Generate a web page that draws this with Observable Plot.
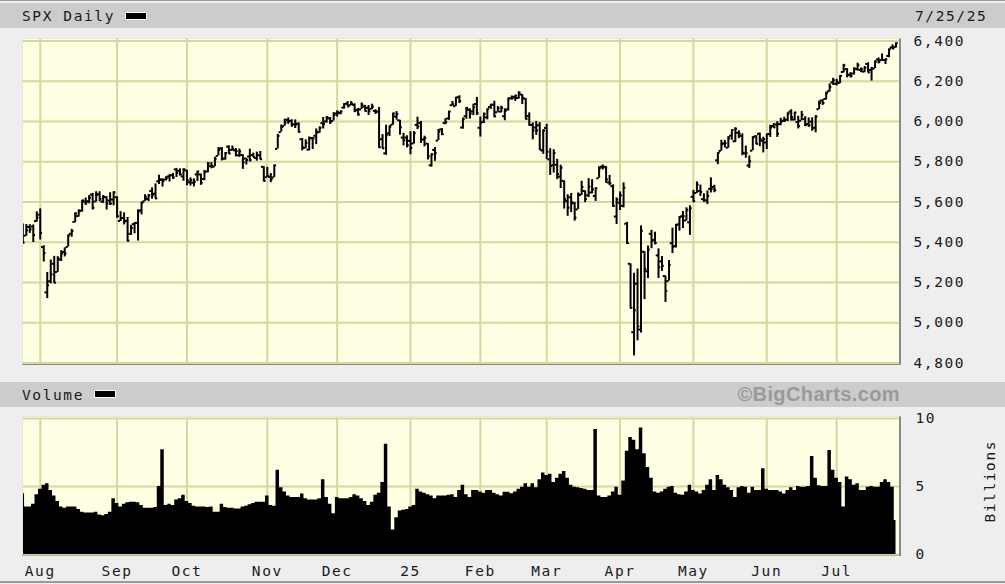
<!DOCTYPE html>
<html><head><meta charset="utf-8">
<script src="https://cdn.jsdelivr.net/npm/d3@7"></script>
<script src="https://cdn.jsdelivr.net/npm/@observablehq/plot@0.6"></script>
<style>
html,body{margin:0;padding:0;background:#eeeeee;}
#wrap{position:relative;width:1005px;height:584px;overflow:hidden;background:#eeeeee;font-family:"DejaVu Sans Mono",monospace;color:#1a1a1a;}
.hbar{position:absolute;left:0;width:1005px;background:#cccccc;}
.lbl{position:absolute;font-size:14.5px;letter-spacing:1.6px;line-height:1;white-space:nowrap;}
.leg{position:absolute;width:20px;height:6px;background:#000;border:1px solid #fff;}
.panel{position:absolute;background:#ffffe3;border-top:1px solid #e6e6d2;border-left:1px solid #e6e6d2;border-right:2px solid #8a8a8a;border-bottom:2px solid #8a8a8a;}
.chart{position:absolute;left:0;}
svg text{letter-spacing:1.6px;}
</style></head>
<body>
<div id="wrap">
  <div style="position:absolute;left:0;top:0;width:1005px;height:1px;background:#9a9a9a"></div>
  <div class="hbar" style="top:3px;height:25px"></div>
  <div class="lbl" style="left:22px;top:9px">SPX Daily</div>
  <div class="leg" style="left:125px;top:12px"></div>
  <div class="lbl" style="left:915px;top:9px">7/25/25</div>
  <div class="panel" style="left:22px;top:38px;width:876px;height:324px"></div>
  <div class="hbar" style="top:382px;height:25px"></div>
  <div class="lbl" style="left:22px;top:388px">Volume</div>
  <div class="leg" style="left:94px;top:390px"></div>
  <div style="position:absolute;right:105px;top:384px;font:bold 20px 'Liberation Sans',Arial,sans-serif;line-height:1;color:#9a9a9a;letter-spacing:0.4px;white-space:nowrap">©BigCharts.com</div>
  <div class="panel" style="left:22px;top:416px;width:876px;height:137px"></div>
  <div class="lbl" style="left:940px;top:474px;width:100px;text-align:center;transform:rotate(-90deg);transform-origin:50% 50%">Billions</div>
  <div style="position:absolute;left:0;top:581px;width:1005px;height:2px;background:#9a9a9a"></div>
  <div id="price" class="chart" style="top:30px"></div>
  <div id="volume" class="chart" style="top:410px"></div>
</div>
<script>
const dates = [
"2024-07-25","2024-07-26","2024-07-29","2024-07-30","2024-07-31",
"2024-08-01","2024-08-02","2024-08-05","2024-08-06","2024-08-07","2024-08-08","2024-08-09","2024-08-12","2024-08-13","2024-08-14","2024-08-15","2024-08-16","2024-08-19","2024-08-20","2024-08-21","2024-08-22","2024-08-23","2024-08-26","2024-08-27","2024-08-28","2024-08-29","2024-08-30",
"2024-09-03","2024-09-04","2024-09-05","2024-09-06","2024-09-09","2024-09-10","2024-09-11","2024-09-12","2024-09-13","2024-09-16","2024-09-17","2024-09-18","2024-09-19","2024-09-20","2024-09-23","2024-09-24","2024-09-25","2024-09-26","2024-09-27","2024-09-30",
"2024-10-01","2024-10-02","2024-10-03","2024-10-04","2024-10-07","2024-10-08","2024-10-09","2024-10-10","2024-10-11","2024-10-14","2024-10-15","2024-10-16","2024-10-17","2024-10-18","2024-10-21","2024-10-22","2024-10-23","2024-10-24","2024-10-25","2024-10-28","2024-10-29","2024-10-30","2024-10-31",
"2024-11-01","2024-11-04","2024-11-05","2024-11-06","2024-11-07","2024-11-08","2024-11-11","2024-11-12","2024-11-13","2024-11-14","2024-11-15","2024-11-18","2024-11-19","2024-11-20","2024-11-21","2024-11-22","2024-11-25","2024-11-26","2024-11-27","2024-11-29",
"2024-12-02","2024-12-03","2024-12-04","2024-12-05","2024-12-06","2024-12-09","2024-12-10","2024-12-11","2024-12-12","2024-12-13","2024-12-16","2024-12-17","2024-12-18","2024-12-19","2024-12-20","2024-12-23","2024-12-24","2024-12-26","2024-12-27","2024-12-30","2024-12-31",
"2025-01-02","2025-01-03","2025-01-06","2025-01-07","2025-01-08","2025-01-10","2025-01-13","2025-01-14","2025-01-15","2025-01-16","2025-01-17","2025-01-21","2025-01-22","2025-01-23","2025-01-24","2025-01-27","2025-01-28","2025-01-29","2025-01-30","2025-01-31",
"2025-02-03","2025-02-04","2025-02-05","2025-02-06","2025-02-07","2025-02-10","2025-02-11","2025-02-12","2025-02-13","2025-02-14","2025-02-18","2025-02-19","2025-02-20","2025-02-21","2025-02-24","2025-02-25","2025-02-26","2025-02-27","2025-02-28",
"2025-03-03","2025-03-04","2025-03-05","2025-03-06","2025-03-07","2025-03-10","2025-03-11","2025-03-12","2025-03-13","2025-03-14","2025-03-17","2025-03-18","2025-03-19","2025-03-20","2025-03-21","2025-03-24","2025-03-25","2025-03-26","2025-03-27","2025-03-28","2025-03-31",
"2025-04-01","2025-04-02","2025-04-03","2025-04-04","2025-04-07","2025-04-08","2025-04-09","2025-04-10","2025-04-11","2025-04-14","2025-04-15","2025-04-16","2025-04-17","2025-04-21","2025-04-22","2025-04-23","2025-04-24","2025-04-25","2025-04-28","2025-04-29","2025-04-30",
"2025-05-01","2025-05-02","2025-05-05","2025-05-06","2025-05-07","2025-05-08","2025-05-09","2025-05-12","2025-05-13","2025-05-14","2025-05-15","2025-05-16","2025-05-19","2025-05-20","2025-05-21","2025-05-22","2025-05-23","2025-05-27","2025-05-28","2025-05-29","2025-05-30",
"2025-06-02","2025-06-03","2025-06-04","2025-06-05","2025-06-06","2025-06-09","2025-06-10","2025-06-11","2025-06-12","2025-06-13","2025-06-16","2025-06-17","2025-06-18","2025-06-20","2025-06-23","2025-06-24","2025-06-25","2025-06-26","2025-06-27","2025-06-30",
"2025-07-01","2025-07-02","2025-07-03","2025-07-07","2025-07-08","2025-07-09","2025-07-10","2025-07-11","2025-07-14","2025-07-15","2025-07-16","2025-07-17","2025-07-18","2025-07-21","2025-07-22","2025-07-23","2025-07-24","2025-07-25"
];
const opens = [
5428,5433,5476,5478,5505,
5537,5376,5151,5206,5293,5252,5314,5352,5376,5442,5501,5530,5557,5602,5604,5637,5602,5639,5602,5624,5607,5612,
5624,5506,5520,5507,5442,5490,5496,5558,5603,5615,5655,5641,5703,5709,5711,5727,5733,5762,5755,5727,
5757,5698,5696,5737,5737,5714,5751,5778,5775,5829,5866,5816,5875,5859,5857,5832,5834,5816,5826,5833,5819,5832,5775,
5723,5725,5722,5864,5947,5977,6008,6003,5986,5989,5912,5869,5860,5917,5929,5946,5992,6000,6015,6003,
6040,6042,6069,6089,6081,6083,6058,6060,6074,6068,6063,6053,6048,5912,5842,5941,5984,6025,6006,5920,5920,
5904,5891,5983,5993,5911,5890,5782,5859,5905,5961,5993,6015,6081,6076,6121,5970,6026,6058,6050,6087,
5969,5998,6021,6072,6083,6046,6049,6026,6060,6115,6122,6117,6134,6114,6027,5983,5970,5981,5856,
5968,5812,5782,5785,5726,5705,5604,5624,5594,5563,5635,5655,5633,5647,5630,5718,5775,5772,5697,5679,5528,
5597,5581,5492,5293,4953,5194,4966,5353,5256,5442,5412,5335,5305,5232,5207,5395,5381,5489,5529,5508,5499,
5626,5645,5655,5614,5608,5665,5675,5807,5854,5891,5870,5929,5902,5944,5928,5842,5781,5855,5926,5939,5904,
5896,5938,5978,5985,5987,6004,6009,6049,6010,5997,6004,6012,5987,5999,5969,6061,6104,6112,6150,6194,
6187,6191,6246,6260,6233,6238,6260,6256,6248,6286,6256,6263,6308,6305,6306,6326,6368,6370
];
const highs = [
5491,5488,5487,5486,5551,
5566,5383,5250,5312,5330,5328,5358,5372,5436,5464,5546,5561,5608,5620,5632,5643,5651,5651,5632,5627,5646,5651,
5626,5552,5546,5523,5484,5497,5561,5600,5636,5637,5670,5690,5733,5716,5725,5735,5742,5767,5765,5765,
5757,5720,5715,5753,5739,5757,5796,5796,5822,5871,5870,5846,5879,5878,5866,5863,5835,5817,5862,5843,5848,5851,5775,
5772,5741,5783,5936,5983,6012,6018,6009,6008,5993,5916,5909,5923,5921,5963,5973,6020,6025,6020,6044,
6053,6052,6089,6099,6099,6088,6065,6092,6080,6079,6086,6058,6070,5935,5982,5979,6041,6049,6006,5941,5929,
5949,5950,6021,6000,5927,5890,5839,5871,5960,5965,6014,6051,6100,6119,6128,6017,6070,6063,6086,6120,
6022,6042,6062,6084,6101,6074,6076,6063,6116,6127,6129,6147,6134,6114,6043,5993,6000,5994,5959,
5986,5865,5860,5812,5783,5705,5636,5642,5598,5645,5703,5655,5716,5711,5670,5775,5784,5777,5732,5685,5621,
5650,5695,5499,5293,5246,5267,5481,5353,5381,5459,5450,5367,5329,5232,5309,5470,5489,5528,5553,5571,5581,
5658,5700,5684,5641,5655,5720,5683,5845,5907,5906,5925,5958,5969,5954,5939,5878,5829,5924,5930,5943,5922,
5937,5981,5990,5999,6016,6021,6043,6059,6045,6026,6050,6024,6018,6018,6029,6102,6109,6146,6187,6215,
6210,6227,6284,6263,6243,6267,6290,6266,6272,6292,6268,6301,6316,6336,6310,6360,6381,6390
];
const lows = [
5390,5430,5444,5399,5500,
5411,5302,5120,5193,5195,5250,5304,5327,5376,5425,5497,5525,5550,5583,5591,5560,5600,5602,5593,5560,5583,5581,
5520,5503,5486,5402,5434,5442,5406,5536,5603,5602,5614,5616,5687,5674,5705,5699,5712,5722,5729,5703,
5681,5679,5675,5702,5683,5706,5745,5765,5775,5829,5804,5808,5840,5852,5824,5822,5762,5784,5799,5823,5803,5810,5702,
5723,5696,5722,5864,5947,5977,5986,5971,5965,5942,5854,5865,5854,5861,5885,5942,5963,5992,5985,6003,
6022,6033,6062,6075,6079,6044,6027,6060,6052,6030,6059,6035,5867,5866,5832,5926,5982,6007,5932,5879,5869,
5835,5888,5960,5891,5874,5809,5773,5802,5905,5930,5984,6006,6076,6075,6089,5962,6011,6012,6029,6030,
5923,5990,6008,6060,6019,6046,6043,6004,6052,6107,6100,6111,6084,6009,5977,5909,5931,5858,5837,
5810,5732,5744,5711,5667,5565,5529,5547,5505,5563,5633,5597,5622,5641,5603,5718,5759,5693,5681,5573,5488,
5558,5571,5390,5070,4835,4910,4949,5115,5220,5368,5387,5220,5255,5101,5207,5344,5371,5455,5468,5505,5434,
5597,5643,5628,5598,5587,5645,5646,5786,5853,5869,5867,5907,5895,5915,5830,5817,5767,5855,5886,5875,5844,
5861,5921,5966,5921,5979,5995,6000,6002,6003,5963,6004,5975,5971,5952,5944,6059,6080,6107,6146,6180,
6177,6188,6241,6217,6216,6231,6251,6243,6242,6244,6201,6263,6286,6303,6283,6317,6360,6365
];
const closes = [
5399,5459,5464,5436,5522,
5446,5346,5186,5240,5199,5319,5344,5344,5434,5455,5543,5554,5608,5597,5621,5571,5634,5616,5626,5592,5592,5648,
5529,5520,5503,5408,5471,5496,5554,5596,5626,5633,5634,5618,5714,5703,5718,5732,5722,5745,5738,5762,
5709,5709,5700,5751,5696,5751,5792,5780,5815,5859,5815,5843,5841,5864,5853,5851,5797,5809,5808,5823,5833,5813,5705,
5729,5713,5782,5929,5973,5996,6001,5984,5985,5949,5871,5894,5917,5917,5949,5969,5987,6021,5999,6032,
6047,6050,6087,6075,6090,6053,6035,6084,6052,6051,6074,6051,5872,5867,5931,5974,6040,6037,5971,5907,5882,
5869,5942,5975,5909,5918,5827,5837,5843,5950,5937,5997,6049,6086,6119,6101,6012,6067,6039,6071,6041,
5994,6038,6061,6084,6026,6066,6069,6052,6115,6115,6129,6144,6118,6013,5983,5955,5956,5861,5955,
5850,5779,5843,5739,5770,5614,5572,5599,5522,5639,5675,5615,5676,5663,5668,5768,5777,5712,5693,5581,5612,
5633,5671,5396,5074,5062,4982,5457,5268,5363,5406,5397,5276,5283,5158,5288,5376,5485,5525,5529,5561,5569,
5604,5687,5650,5607,5631,5664,5660,5844,5886,5892,5916,5958,5964,5940,5845,5842,5802,5922,5889,5912,5912,
5936,5970,5971,5939,6000,6006,6039,6022,6045,5977,6033,5982,5981,5967,6025,6092,6092,6141,6173,6205,
6198,6227,6279,6230,6226,6263,6280,6260,6269,6244,6264,6297,6297,6305,6309,6359,6363,6389
];
const volumes = [
4.46,3.5,3.5,3.7,4.4,
4.8,5.1,5.2,4.7,4.3,3.9,3.5,3.4,3.5,3.5,3.5,3.3,3.1,3.05,3.05,3.05,3.1,2.9,2.85,2.95,3.1,4.1,
3.75,3.5,3.7,3.8,3.85,3.85,3.8,3.6,3.4,3.4,3.4,3.45,5.0,7.7,3.6,3.7,3.6,4.0,4.1,4.35,
3.9,3.75,3.55,3.5,3.5,3.5,3.45,3.5,3.1,3.1,3.7,3.45,3.4,3.4,3.35,3.35,3.5,3.55,3.65,3.75,3.85,3.85,3.85,
4.3,3.6,3.55,6.2,4.9,4.6,4.3,4.2,4.2,4.2,4.45,4.1,4.0,4.0,4.0,4.1,5.5,4.2,3.7,3.0,
4.2,4.1,4.1,4.1,4.2,4.4,4.3,4.1,3.9,3.6,3.85,4.35,4.5,5.3,8.1,3.5,1.8,2.7,3.2,3.25,3.3,
3.5,3.6,4.8,4.6,4.5,4.4,4.3,4.1,4.3,4.3,4.3,4.35,4.4,4.2,4.7,5.1,4.4,4.2,4.7,4.7,
4.6,4.5,4.7,4.7,4.5,4.4,4.3,4.58,4.58,4.46,4.6,4.8,4.95,5.2,4.95,5.2,4.9,5.5,6.0,
5.8,5.9,5.3,5.6,5.9,6.1,5.6,5.1,4.95,4.9,4.85,4.8,4.7,4.7,9.2,4.3,4.2,4.2,4.3,4.6,4.95,
4.35,5.4,7.6,8.6,8.4,7.7,9.3,7.4,6.4,5.6,4.6,4.5,4.6,4.8,4.95,5.0,4.5,4.4,4.35,4.6,5.1,
4.7,4.6,4.45,4.7,5.1,5.5,4.7,5.8,5.5,5.1,4.9,4.7,4.2,4.9,5.0,4.95,4.5,4.95,4.7,4.7,6.3,
4.8,4.7,4.7,4.7,4.6,4.45,4.7,4.9,4.7,5.0,4.95,4.95,5.0,7.2,5.6,5.05,5.0,5.0,7.65,6.2,
5.6,5.3,3.5,5.7,5.5,5.1,5.2,4.7,4.7,4.95,5.0,4.95,4.95,5.3,5.5,5.3,4.95,2.5
];
const priceTicks = [4800,5000,5200,5400,5600,5800,6000,6200,6400];
const volumeTicks = [0,5,10];
const monthLabels = ["Aug","Sep","Oct","Nov","Dec","25","Feb","Mar","Apr","May","Jun","Jul"];

const rows = dates.map((d, k) => ({k, date: d, open: opens[k], high: highs[k], low: lows[k], close: closes[k], vol: volumes[k]}));
const monthStarts = rows.filter((r, k) => k > 0 && r.date.slice(0, 7) !== rows[k - 1].date.slice(0, 7)).map(r => r.k);
const labelFor = new Map(monthStarts.map((k, j) => [k, monthLabels[j]]));

const xDomain = [0.2, 251];
const gridStyle = {stroke: "#d6d6a0", strokeOpacity: 1, strokeWidth: 2};
const barStyle = {stroke: "#000", strokeWidth: 2, clip: true};
const baseStyle = {fontFamily: "'DejaVu Sans Mono', monospace", fontSize: "14.5px", color: "#1a1a1a", background: "transparent", overflow: "visible"};

const price = Plot.plot({
  width: 1005, height: 344,
  marginTop: 9, marginBottom: 10, marginLeft: 23, marginRight: 106,
  style: baseStyle,
  x: {domain: xDomain, axis: null},
  y: {domain: [4792.5, 6407.5], axis: null},
  marks: [
    Plot.gridY(priceTicks, gridStyle),
    Plot.gridX(monthStarts, gridStyle),
    Plot.ruleX(rows, {x: "k", y1: "low", y2: "high", ...barStyle}),
    Plot.ruleY(rows, {x1: d => d.k - 0.65, x2: "k", y: "open", ...barStyle}),
    Plot.ruleY(rows, {x1: "k", x2: d => d.k + 0.65, y: "close", ...barStyle}),
    Plot.axisY(priceTicks, {anchor: "right", tickFormat: d3.format(","), tickSize: 0, tickPadding: 14, label: null})
  ]
});
document.getElementById("price").appendChild(price);

const volume = Plot.plot({
  width: 1005, height: 174,
  marginTop: 8, marginBottom: 30, marginLeft: 23, marginRight: 106,
  style: baseStyle,
  x: {domain: xDomain, axis: null},
  y: {domain: [0, 10], axis: null},
  marks: [
    Plot.gridY(volumeTicks, gridStyle),
    Plot.gridX(monthStarts, gridStyle),
    Plot.areaY(rows, {x: "k", y: "vol", curve: "step", fill: "#000", clip: true}),
    Plot.axisY(volumeTicks, {anchor: "right", tickSize: 0, tickPadding: 16, label: null}),
    Plot.axisX(monthStarts, {anchor: "bottom", tickSize: 0, tickPadding: 11, tickFormat: d => labelFor.get(d), label: null})
  ]
});
document.getElementById("volume").appendChild(volume);
</script>
</body></html>
